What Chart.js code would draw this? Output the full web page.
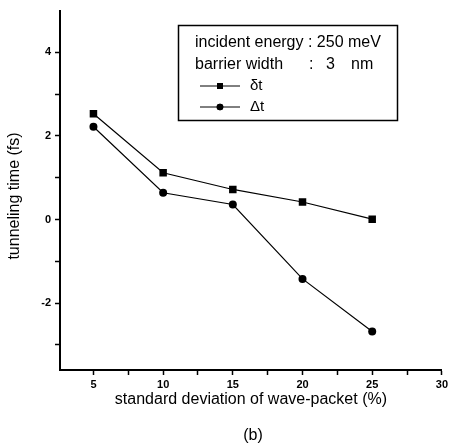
<!DOCTYPE html>
<html>
<head>
<meta charset="utf-8">
<script src="https://cdn.jsdelivr.net/npm/chart.js@4"></script>
<style>
html,body{margin:0;padding:0;background:#fff;}
#wrap{width:451px;height:448px;position:relative;}
</style>
</head>
<body>
<div id="wrap"><canvas id="c" width="451" height="448"></canvas></div>
<script>
// ---- data ----
const deviations = [5, 10, 15, 20, 25];
const smallDeltaT = [2.53, 1.12, 0.72, 0.42, 0.01];   // δt
const bigDeltaT   = [2.22, 0.64, 0.36, -1.42, -2.68]; // Δt
const seriesLabels = ['δt', 'Δt'];
const xTickValues = [5, 7.5, 10, 12.5, 15, 17.5, 20, 22.5, 25, 27.5, 30];
const xTickLabels = ['5', '', '10', '', '15', '', '20', '', '25', '', '30'];
const yTickValues = [-3, -2, -1, 0, 1, 2, 3, 4];
const yTickLabels = ['', '-2', '', '0', '', '2', '', '4'];
const infoLines = ['incident energy : 250 meV', 'barrier width'];
const xTitle = 'standard deviation of wave-packet (%)';
const yTitle = 'tunneling time (fs)';
const panelLabel = '(b)';

const FONT = "'Liberation Sans', Arial, sans-serif";

const overlay = {
  id: 'overlay',
  afterDraw(chart) {
    const ctx = chart.ctx;
    const area = chart.chartArea;
    ctx.save();
    ctx.fillStyle = '#000';
    ctx.strokeStyle = '#000';
    // axis titles
    ctx.font = '16px ' + FONT;
    ctx.textAlign = 'center';
    ctx.textBaseline = 'middle';
    ctx.fillText(xTitle, (area.left + area.right) / 2, 400);
    ctx.font = '16px ' + FONT;
    ctx.fillText(panelLabel, 253, 436);
    ctx.save();
    ctx.translate(15, 196);
    ctx.rotate(-Math.PI / 2);
    ctx.font = '16px ' + FONT;
    ctx.fillText(yTitle, 0, 0);
    ctx.restore();

    // legend box
    ctx.lineWidth = 1.5;
    ctx.strokeRect(178.5, 25.5, 219, 95);
    ctx.font = '16px ' + FONT;
    ctx.textAlign = 'left';
    ctx.fillText(infoLines[0], 195, 43);
    ctx.fillText(infoLines[1], 195, 65);
    ctx.fillText(':', 309, 65);
    ctx.fillText('3', 326, 65);
    ctx.fillText('nm', 351, 65);
    const rows = [86, 107];
    chart.data.datasets.forEach((ds, i) => {
      const y = rows[i];
      ctx.lineWidth = 1;
      ctx.beginPath();
      ctx.moveTo(200, y);
      ctx.lineTo(240, y);
      ctx.stroke();
      Chart.helpers.drawPoint(ctx, {pointStyle: ds.pointStyle, radius: ds.pointStyle === 'rect' ? 4.2 : 3.3, borderWidth: 0, rotation: 0}, 220, y);
      ctx.fill();
      ctx.font = '15px ' + FONT;
      ctx.fillText(seriesLabels[i], 250, y);
    });
    ctx.restore();
  }
};

new Chart(document.getElementById('c'), {
  type: 'line',
  data: {
    datasets: [
      {
        label: seriesLabels[0],
        data: deviations.map((x, i) => ({x, y: smallDeltaT[i]})),
        borderColor: '#000', backgroundColor: '#000', borderWidth: 1.2,
        pointStyle: 'rect', pointRadius: 5.3, pointBorderWidth: 0,
        tension: 0
      },
      {
        label: seriesLabels[1],
        data: deviations.map((x, i) => ({x, y: bigDeltaT[i]})),
        borderColor: '#000', backgroundColor: '#000', borderWidth: 1.2,
        pointStyle: 'circle', pointRadius: 4, pointBorderWidth: 0,
        tension: 0
      }
    ]
  },
  options: {
    responsive: false,
    animation: false,
    devicePixelRatio: 1,
    layout: {padding: {top: 9, right: 7, left: 0, bottom: 0}},
    plugins: {legend: {display: false}, tooltip: {enabled: false}},
    scales: {
      x: {
        type: 'linear',
        min: 2.6, max: 30,
        afterFit: s => { s.height = 78; },
        afterBuildTicks: s => { s.ticks = xTickValues.map(v => ({value: v})); },
        grid: {drawOnChartArea: false, drawTicks: true, tickLength: 5, tickColor: '#000', tickWidth: 1.5},
        border: {display: true, color: '#000', width: 2},
        ticks: {
          color: '#000', padding: 3, maxRotation: 0, autoSkip: false,
          font: {family: FONT, size: 11, weight: 'bold'},
          callback: (v) => { const k = xTickValues.indexOf(v); return k >= 0 ? xTickLabels[k] : ''; }
        }
      },
      y: {
        type: 'linear',
        min: -3.6, max: 5,
        afterFit: s => { s.width = 60; },
        afterBuildTicks: s => { s.ticks = yTickValues.map(v => ({value: v})); },
        grid: {drawOnChartArea: false, drawTicks: true, tickLength: 5, tickColor: '#000', tickWidth: 1.5},
        border: {display: true, color: '#000', width: 2},
        ticks: {
          color: '#000', padding: 4, autoSkip: false,
          font: {family: FONT, size: 11, weight: 'bold'},
          callback: (v) => { const k = yTickValues.indexOf(v); return k >= 0 ? yTickLabels[k] : ''; }
        }
      }
    }
  },
  plugins: [overlay]
});
</script>
</body>
</html>
